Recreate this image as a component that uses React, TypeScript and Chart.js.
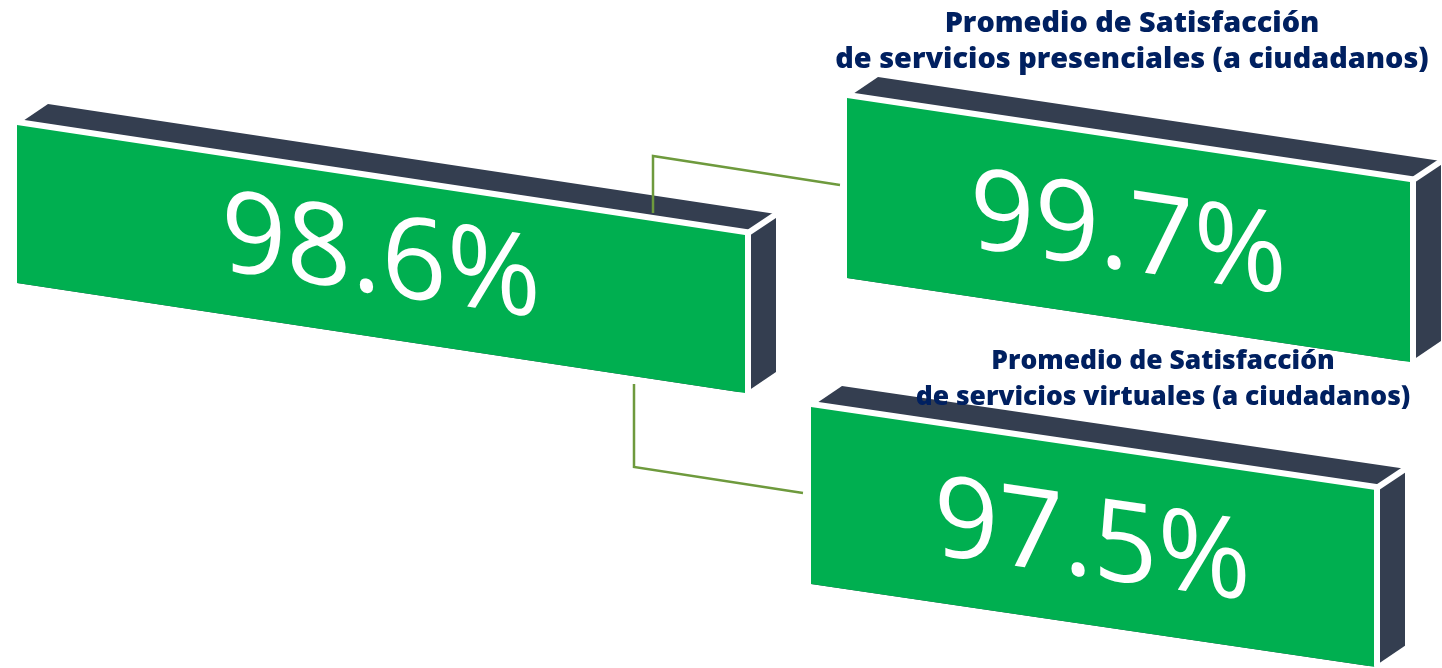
import React, { useEffect, useRef } from "react";
import { Chart, registerables } from "chart.js";

Chart.register(...registerables);

// ---- data ----
const CARD_KEYS = ["General", "Presenciales", "Virtuales"];
const CARD_VALUES = [98.6, 99.7, 97.5];
const CARD_TITLES: string[][] = [
  [],
  ["Promedio de Satisfacción", "de servicios presenciales (a ciudadanos)"],
  ["Promedio de Satisfacción", "de servicios virtuales (a ciudadanos)"],
];

// ---- layout (pixel-space units mapped through hidden linear scales) ----
const CANVAS_W = 1442;
const CANVAS_H = 668;
const BOX_LAYOUT = [
  { x: 17, y: 125, w: 728, h: 158, slope: 0.151, font: 114, dyText: -6 },
  { x: 847, y: 98, w: 563, h: 180, slope: 0.149, font: 113, dyText: 0 },
  { x: 811, y: 407, w: 563, h: 177, slope: 0.147, font: 113, dyText: 0 },
];
const DEPTH = { dx: 31, dy: -21 };
const TITLE_LAYOUT = [
  null,
  { cx: 1132, baselines: [32, 68], widths: [377, 590] },
  { cx: 1163, baselines: [369, 405], widths: [347, 490] },
];
const CONNECTORS = [
  [[653, 213], [653, 156], [840, 185]],
  [[634, 384], [634, 467], [803, 493]],
];
const GREEN = "#00AF50";
const DARK = "#343E50";
const NAVY = "#002060";
const LINE = "#6E9A3D";
const TITLE_FONT = '"Open Sans", "Noto Sans", sans-serif';

const cardsPlugin = {
  id: "cards3d",
  afterDraw(chart: any) {
    const ctx: CanvasRenderingContext2D = chart.ctx;
    const sx = chart.scales.lx;
    const sy = chart.scales.ly;
    const X = (v: number) => sx.getPixelForValue(v);
    const Y = (v: number) => sy.getPixelForValue(v);
    const values: number[] = chart.data.datasets[0].data;

    values.forEach((val, i) => {
      const b = BOX_LAYOUT[i];
      const tl = [X(b.x), Y(b.y)];
      const tr = [X(b.x + b.w), Y(b.y + b.slope * b.w)];
      const br = [X(b.x + b.w), Y(b.y + b.slope * b.w + b.h)];
      const bl = [X(b.x), Y(b.y + b.h)];
      const dx = DEPTH.dx, dy = DEPTH.dy;

      ctx.save();
      ctx.beginPath();
      ctx.moveTo(tl[0], tl[1]);
      ctx.lineTo(tl[0] + dx, tl[1] + dy);
      ctx.lineTo(tr[0] + dx, tr[1] + dy);
      ctx.lineTo(br[0] + dx, br[1] + dy);
      ctx.lineTo(br[0], br[1]);
      ctx.lineTo(bl[0], bl[1]);
      ctx.closePath();
      ctx.fillStyle = DARK;
      ctx.fill();

      ctx.strokeStyle = "#FFFFFF";
      ctx.lineWidth = 12;
      ctx.lineJoin = "miter";
      ctx.lineCap = "butt";
      ctx.beginPath();
      ctx.moveTo(tl[0], tl[1]);
      ctx.lineTo(tr[0], tr[1]);
      ctx.lineTo(br[0], br[1]);
      ctx.stroke();
      ctx.lineWidth = 6;
      ctx.beginPath();
      ctx.moveTo(tr[0], tr[1]);
      ctx.lineTo(tr[0] + dx + 2, tr[1] + dy - 1);
      ctx.stroke();

      ctx.beginPath();
      ctx.moveTo(tl[0], tl[1]);
      ctx.lineTo(tr[0], tr[1]);
      ctx.lineTo(br[0], br[1]);
      ctx.lineTo(bl[0], bl[1]);
      ctx.closePath();
      ctx.fillStyle = GREEN;
      ctx.fill();

      const cx = X(b.x + b.w / 2);
      const cy = Y(b.y + (b.slope * b.w) / 2 + b.h / 2);
      ctx.translate(cx, cy);
      ctx.transform(1, b.slope, 0, 1, 0, 0);
      ctx.fillStyle = "#FFFFFF";
      ctx.font = `400 ${b.font}px "Open Sans", "DejaVu Sans", sans-serif`;
      ctx.textAlign = "center";
      ctx.textBaseline = "alphabetic";
      ctx.fillText(`${val.toFixed(1)}%`, 0, 0.357 * b.font + b.dyText);
      ctx.restore();
    });

    ctx.save();
    ctx.strokeStyle = LINE;
    ctx.lineWidth = 2.5;
    ctx.lineJoin = "miter";
    CONNECTORS.forEach((pts) => {
      ctx.beginPath();
      pts.forEach((p, k) => {
        if (k === 0) ctx.moveTo(X(p[0]), Y(p[1]));
        else ctx.lineTo(X(p[0]), Y(p[1]));
      });
      ctx.stroke();
    });
    ctx.restore();

    ctx.save();
    ctx.fillStyle = NAVY;
    ctx.textAlign = "center";
    ctx.textBaseline = "alphabetic";
    CARD_TITLES.forEach((lines, i) => {
      const t = TITLE_LAYOUT[i];
      if (!t) return;
      ctx.font = `800 100px ${TITLE_FONT}`;
      let sum = 0;
      lines.forEach((line, k) => {
        sum += (100 * t.widths[k]) / ctx.measureText(line).width;
      });
      const size = sum / lines.length;
      ctx.font = `800 ${size.toFixed(2)}px ${TITLE_FONT}`;
      lines.forEach((line, k) => {
        ctx.fillText(line, X(t.cx), Y(t.baselines[k]));
      });
    });
    ctx.restore();
  },
};

export default function App() {
  const ref = useRef<HTMLCanvasElement | null>(null);
  useEffect(() => {
    if (!ref.current) return;
    const chart = new Chart(ref.current, {
      type: "bar",
      data: {
        labels: CARD_KEYS,
        datasets: [
          {
            label: "Satisfacción",
            data: CARD_VALUES,
            backgroundColor: "rgba(0,0,0,0)",
            borderWidth: 0,
          },
        ],
      },
      options: {
        animation: false,
        responsive: false,
        maintainAspectRatio: false,
        devicePixelRatio: 1,
        layout: { padding: 0 },
        events: [],
        plugins: {
          legend: { display: false },
          title: { display: false },
          tooltip: { enabled: false },
        },
        scales: {
          x: { type: "category", display: false },
          y: { type: "linear", display: false, min: 0, max: 100 },
          lx: {
            type: "linear", axis: "x", display: false, min: 0, max: CANVAS_W,
            position: "bottom", offset: false, grid: { offset: false }, grace: 0,
          },
          ly: {
            type: "linear", axis: "y", display: false, min: 0, max: CANVAS_H,
            reverse: true, position: "left", offset: false, grace: 0,
          },
        },
      } as any,
      plugins: [cardsPlugin],
    });
    return () => chart.destroy();
  }, []);
  return (
    <div style={{ position: "absolute", left: 0, top: 0, width: CANVAS_W, height: CANVAS_H, background: "#fff" }}>
      <canvas ref={ref} width={CANVAS_W} height={CANVAS_H} />
    </div>
  );
}
